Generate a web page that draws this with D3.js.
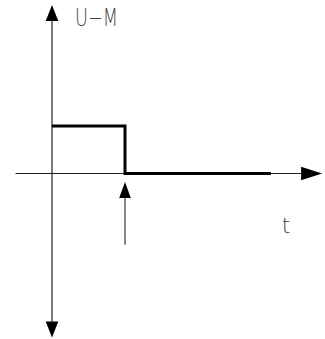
<!DOCTYPE html>
<html>
<head>
<meta charset="utf-8">
<script src="https://cdn.jsdelivr.net/npm/d3@7"></script>
<style>
  body { margin: 0; background: #fff; }
  svg { display: block; }
</style>
</head>
<body>
<div id="chart"></div>
<script>
var width = 325, height = 339;

// step signal U-M over t
var stepT = [0, 1, 3];
var stepU = [1, 0, 0];

// axis extents (data units)
var tRange = [-0.5, 3.7];
var uRange = [-3.45, 3.55];

// marker arrow at the switching time
var markT = 1;
var markU = [-0.18, -1.5];

var labels = ["U\u2212M", "t"];

var x = d3.scaleLinear().domain([0, 1]).range([52, 125]),
    y = d3.scaleLinear().domain([0, 1]).range([173.5, 126]);

var svg = d3.select("#chart")
    .append("svg")
    .attr("width", width)
    .attr("height", height);

function arrowHead(px, py, dir, len, half) {
  // dir: "up", "down", "right"
  var p = d3.path();
  if (dir == "up") {
    p.moveTo(px, py); p.lineTo(px - half, py + len); p.lineTo(px + half, py + len);
  } else if (dir == "down") {
    p.moveTo(px, py); p.lineTo(px - half, py - len); p.lineTo(px + half, py - len);
  } else {
    p.moveTo(px, py); p.lineTo(px - len, py - half); p.lineTo(px - len, py + half);
  }
  p.closePath();
  return p.toString();
}

// vertical axis
svg.append("line")
    .attr("x1", x(0)).attr("x2", x(0))
    .attr("y1", y(uRange[1]) + 10).attr("y2", y(uRange[0]) - 10)
    .attr("stroke", "#222").attr("stroke-width", 1.2);
svg.append("path")
    .attr("d", arrowHead(x(0), y(uRange[1]), "up", 16, 6.3))
    .attr("fill", "#000");
svg.append("path")
    .attr("d", arrowHead(x(0), y(uRange[0]), "down", 16, 6.3))
    .attr("fill", "#000");

// horizontal axis
svg.append("line")
    .attr("x1", x(tRange[0])).attr("x2", x(tRange[1]) - 15)
    .attr("y1", y(0)).attr("y2", y(0))
    .attr("stroke", "#222").attr("stroke-width", 1.2);
svg.append("path")
    .attr("d", arrowHead(x(tRange[1]), y(0), "right", 21, 6.8))
    .attr("fill", "#000");

// step signal
var pts = stepT.map(function(t, i) { return [t, stepU[i]]; });
var line = d3.line()
    .x(function(d) { return x(d[0]); })
    .y(function(d) { return y(d[1]); })
    .curve(d3.curveStepAfter);

svg.append("path")
    .datum(pts)
    .attr("fill", "none")
    .attr("stroke", "#000")
    .attr("stroke-width", 3)
    .attr("d", line);

// marker arrow
svg.append("line")
    .attr("x1", x(markT)).attr("x2", x(markT))
    .attr("y1", y(markU[0]) + 10).attr("y2", y(markU[1]))
    .attr("stroke", "#333").attr("stroke-width", 1.2);
svg.append("path")
    .attr("d", arrowHead(x(markT), y(markU[0]), "up", 16, 5.8))
    .attr("fill", "#000");

// labels
svg.append("text")
    .attr("x", 75).attr("y", 26)
    .attr("font-family", "DejaVu Sans")
    .attr("font-weight", 200)
    .attr("font-size", 24)
    .attr("fill", "#444")
    .attr("textLength", 43)
    .attr("lengthAdjust", "spacingAndGlyphs")
    .text(labels[0]);

svg.append("text")
    .attr("x", 286).attr("y", 233)
    .attr("font-family", "DejaVu Sans")
    .attr("font-weight", 200)
    .attr("font-size", 22)
    .attr("fill", "#444")
    .attr("text-anchor", "middle")
    .text(labels[1]);
</script>
</body>
</html>
